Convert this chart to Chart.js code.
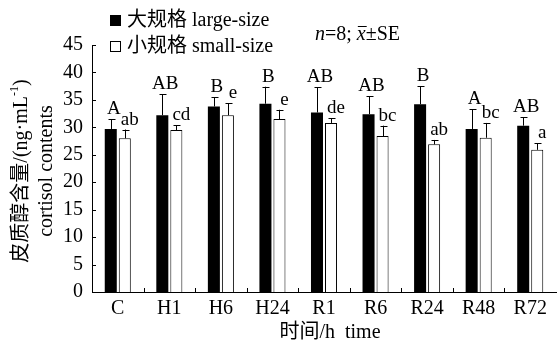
<!DOCTYPE html>
<html>
<head>
<meta charset="utf-8">
<script src="https://cdn.jsdelivr.net/npm/chart.js@4"></script>
<style>
  html, body { margin: 0; padding: 0; background: #fff; }
  #chart { display: block; }
</style>
</head>
<body>
<canvas id="chart" width="557" height="340"></canvas>
<script>
// Cortisol contents, large vs small fish, mean ± SE
const categories = ['C', 'H1', 'H6', 'H24', 'R1', 'R6', 'R24', 'R48', 'R72'];
const largeMeans = [29.7, 32.2, 33.8, 34.3, 32.7, 32.4, 34.2, 29.7, 30.3];
const largeSE = [1.8, 3.8, 1.7, 3.1, 4.6, 3.3, 3.3, 3.6, 1.5];
const smallMeans = [28.0, 29.5, 32.2, 31.5, 30.8, 28.4, 26.9, 28.1, 25.9];
const smallSE = [1.6, 0.9, 2.2, 1.7, 0.9, 1.9, 0.8, 2.7, 1.2];
const largeLetters = ['A', 'AB', 'B', 'B', 'AB', 'AB', 'B', 'A', 'AB'];
const smallLetters = ['ab', 'cd', 'e', 'e', 'de', 'bc', 'ab', 'bc', 'a'];
const yMin = 0, yMax = 45, yStep = 5;

const SERIF = '"Liberation Serif", "Times New Roman", "Noto Sans CJK SC", serif';

// error bars, letters and inward ticks
const markPlugin = {
    id: 'marks',
    afterDatasetsDraw(chart) {
        const ctx = chart.ctx;
        const yScale = chart.scales.y;
        const xScale = chart.scales.x;
        const area = chart.chartArea;
        const seList = [largeSE, smallSE];
        const letterList = [largeLetters, smallLetters];

        ctx.save();
        ctx.strokeStyle = '#000';
        ctx.fillStyle = '#000';
        ctx.lineWidth = 1;

        chart.data.datasets.forEach(function(ds, di) {
            const meta = chart.getDatasetMeta(di);
            meta.data.forEach(function(bar, i) {
                const top = yScale.getPixelForValue(ds.data[i] + seList[di][i]);
                const x = Math.round(bar.x) + 0.5;
                ctx.beginPath();
                ctx.moveTo(x, bar.y);
                ctx.lineTo(x, top);
                ctx.moveTo(x - 3, Math.round(top) + 0.5);
                ctx.lineTo(x + 4, Math.round(top) + 0.5);
                ctx.stroke();

                ctx.font = '19px ' + SERIF;
                ctx.textAlign = 'center';
                ctx.textBaseline = 'alphabetic';
                const dx = di === 0 ? 3 : 5;
                ctx.fillText(letterList[di][i], bar.x + dx, top - 5);
            });
        });

        // y ticks pointing inside
        for (let v = yMin; v <= yMax; v += yStep) {
            const y = Math.round(yScale.getPixelForValue(v)) + 0.5;
            ctx.beginPath();
            ctx.moveTo(area.left, y);
            ctx.lineTo(area.left + 4, y);
            ctx.stroke();
        }
        // x ticks between groups, pointing up
        for (let i = 0; i < categories.length - 1; i++) {
            const x = Math.round((xScale.getPixelForValue(i) + xScale.getPixelForValue(i + 1)) / 2) + 0.5;
            ctx.beginPath();
            ctx.moveTo(x, area.bottom);
            ctx.lineTo(x, area.bottom - 4);
            ctx.stroke();
        }
        ctx.restore();
    },
    afterDraw(chart) {
        const ctx = chart.ctx;
        ctx.save();
        ctx.fillStyle = '#000';
        ctx.strokeStyle = '#000';
        ctx.lineWidth = 1;

        // legend
        ctx.fillRect(110, 15, 11, 11);
        ctx.fillStyle = '#fff';
        ctx.fillRect(110, 41, 11, 11);
        ctx.strokeRect(110.5, 41.5, 10, 10);
        ctx.fillStyle = '#000';
        ctx.font = '20px ' + SERIF;
        ctx.textAlign = 'left';
        ctx.textBaseline = 'alphabetic';
        ctx.fillText('大规格 large-size', 127, 26);
        ctx.fillText('小规格 small-size', 127, 52);

        // n=8; x̄±SE
        let x = 315;
        const base = 40;
        ctx.font = 'italic 20px ' + SERIF;
        ctx.fillText('n', x, base);
        x += ctx.measureText('n').width;
        ctx.font = '20px ' + SERIF;
        ctx.fillText('=8; ', x, base);
        x += ctx.measureText('=8; ').width;
        ctx.font = 'italic 20px ' + SERIF;
        ctx.fillText('x', x, base);
        const xw = ctx.measureText('x').width;
        ctx.beginPath();
        ctx.moveTo(x + 1, base - 13.5);
        ctx.lineTo(x + xw + 1, base - 13.5);
        ctx.stroke();
        x += xw;
        ctx.font = '20px ' + SERIF;
        ctx.fillText('±SE', x, base);

        // y axis title, two rotated lines
        ctx.save();
        ctx.translate(27, 171);
        ctx.rotate(-Math.PI / 2);
        ctx.font = '20px ' + SERIF;
        const part1 = '皮质醇含量/(ng·mL';
        const sup = '-1';
        const part3 = ')';
        const w1 = ctx.measureText(part1).width;
        ctx.font = '12px ' + SERIF;
        const w2 = ctx.measureText(sup).width;
        ctx.font = '20px ' + SERIF;
        const w3 = ctx.measureText(part3).width;
        let sx = -(w1 + w2 + w3) / 2;
        ctx.textAlign = 'left';
        ctx.fillText(part1, sx, 0);
        sx += w1;
        ctx.font = '12px ' + SERIF;
        ctx.fillText(sup, sx, -9);
        sx += w2;
        ctx.font = '20px ' + SERIF;
        ctx.fillText(part3, sx, 0);
        ctx.textAlign = 'center';
        ctx.fillText('cortisol contents', 0, 25);
        ctx.restore();

        // x axis title
        ctx.textAlign = 'center';
        ctx.font = '20px ' + SERIF;
        ctx.fillText('时间/h  time', 330, 338);
        ctx.restore();
    }
};

new Chart(document.getElementById('chart'), {
    type: 'bar',
    data: {
        labels: categories,
        datasets: [
            {
                label: '大规格 large-size',
                data: largeMeans,
                backgroundColor: '#000',
                borderColor: '#000',
                borderWidth: 0,
                categoryPercentage: 0.544,
                barPercentage: 0.857
            },
            {
                label: '小规格 small-size',
                data: smallMeans,
                backgroundColor: '#fff',
                borderColor: '#000',
                borderWidth: 1,
                categoryPercentage: 0.544,
                barPercentage: 0.857
            }
        ]
    },
    options: {
        responsive: false,
        animation: false,
        events: [],
        layout: {
            padding: { top: 45, right: 1, left: 0, bottom: 0 }
        },
        plugins: {
            legend: { display: false },
            tooltip: { enabled: false }
        },
        scales: {
            x: {
                grid: { display: false, drawTicks: false },
                border: { display: true, color: '#000', width: 1 },
                ticks: {
                    color: '#000',
                    padding: 5,
                    font: { family: SERIF, size: 20 }
                },
                afterFit: function(scale) { scale.height = 48; }
            },
            y: {
                min: yMin,
                max: yMax,
                grid: { display: false, drawTicks: false },
                border: { display: true, color: '#000', width: 1 },
                ticks: {
                    stepSize: yStep,
                    color: '#000',
                    padding: 9,
                    font: { family: SERIF, size: 20 }
                },
                afterFit: function(scale) { scale.width = 92; }
            }
        }
    },
    plugins: [markPlugin]
});
</script>
</body>
</html>
